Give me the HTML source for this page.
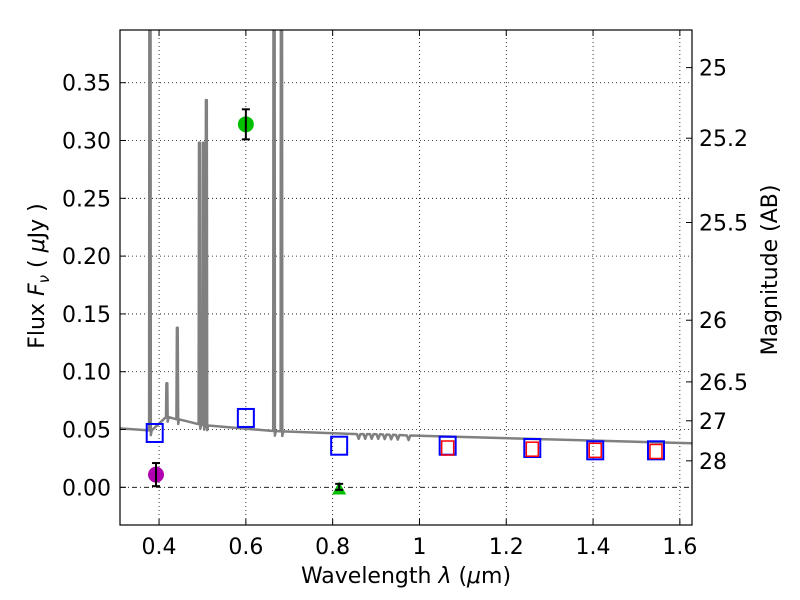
<!DOCTYPE html>
<html><head><meta charset="utf-8"><style>
body{margin:0;background:#fff;}
svg{display:block;font-family:"DejaVu Sans","Liberation Sans",sans-serif;}
</style></head><body>
<svg id="chart" width="800" height="600" viewBox="0 0 800 600" xmlns="http://www.w3.org/2000/svg">
<rect width="800" height="600" fill="#fff"/>
<defs><clipPath id="clip"><rect x="120" y="30" width="572" height="495"/></clipPath></defs>
<g id="grid"></g>
<g id="plot" clip-path="url(#clip)"></g>
<rect x="120" y="30" width="572" height="495" fill="none" stroke="#000" stroke-width="1.2"/>
<g id="axes"></g>
<text x="406" y="583" font-size="22" text-anchor="middle">Wavelength  <tspan font-style="italic">λ</tspan> (<tspan font-style="italic">μ</tspan>m)</text>
<text transform="translate(44,276) rotate(-90)" font-size="22" text-anchor="middle">Flux  <tspan font-style="italic">F</tspan><tspan font-style="italic" font-size="15" dy="5">ν</tspan><tspan dy="-5">  ( </tspan><tspan font-style="italic">μ</tspan>Jy )</text>
<text transform="translate(777,270) rotate(-90)" font-size="22" text-anchor="middle">Magnitude (AB)</text>
</svg>
<script>
const xTicks=[0.4,0.6,0.8,1.0,1.2,1.4,1.6];
const xTickLabels=["0.4","0.6","0.8","1","1.2","1.4","1.6"];
const yTicks=[0,0.05,0.10,0.15,0.20,0.25,0.30,0.35];
const yTickLabels=["0.00","0.05","0.10","0.15","0.20","0.25","0.30","0.35"];
const magTicks=[25,25.2,25.5,26,26.5,27,28];
const magTickLabels=["25","25.2","25.5","26","26.5","27","28"];
const contWave=[0.31,0.34,0.37,0.385,0.40,0.42,0.45,0.50,0.55,0.60,0.70,0.80,0.85,0.90,0.97,1.0,1.1,1.2,1.3,1.4,1.5,1.58,1.63];
const contFlux=[0.051,0.048,0.045,0.052,0.058,0.061,0.058,0.054,0.051,0.050,0.048,0.047,0.046,0.046,0.045,0.044,0.043,0.042,0.041,0.040,0.040,0.040,0.038];
const lineWave=[0.379,0.418,0.442,0.493,0.502,0.509,0.665,0.682];
const linePeak=[0.6,0.09,0.138,0.298,0.298,0.335,0.6,0.6];
const wiggleWave=[0.86,0.875,0.89,0.905,0.92,0.935,0.95,0.975];
const blueWave=[0.39,0.60,0.815,1.065,1.26,1.405,1.545];
const blueFlux=[0.047,0.060,0.036,0.036,0.034,0.032,0.032];
const redWave=[1.065,1.26,1.405,1.545];
const redFlux=[0.034,0.033,0.032,0.031];
const circWave=[0.393,0.60];
const circFlux=[0.011,0.314];
const circErr=[0.010,0.013];
const circColor=["#b000b0","#00c000"];
const triWave=[0.815];
const triFlux=[-0.001];
const triErr=[0.004];

const NS="http://www.w3.org/2000/svg";
const X0=120,X1=692,Y0=30,Y1=525,xmin=0.310,xmax=1.628,ymin=-0.0326,ymax=0.3956;
const sx=v=>X0+(v-xmin)/(xmax-xmin)*(X1-X0);
const sy=v=>Y1-(v-ymin)/(ymax-ymin)*(Y1-Y0);
function mk(tag,attrs,parent){const e=document.createElementNS(NS,tag);for(const k in attrs)e.setAttribute(k,attrs[k]);parent.appendChild(e);return e;}
const grid=document.getElementById('grid'),plot=document.getElementById('plot'),axes=document.getElementById('axes');

xTicks.forEach((t,i)=>{const x=sx(t);
 const g=mk('line',{x1:x,x2:x,y1:Y0,y2:Y1,stroke:'#000','stroke-width':0.8,'stroke-dasharray':'1,3'},grid);
 
 mk('line',{x1:x,x2:x,y1:Y1,y2:Y1-6,stroke:'#000'},axes);
 mk('line',{x1:x,x2:x,y1:Y0,y2:Y0+6,stroke:'#000'},axes);
 const tx=mk('text',{x:x,y:554,'font-size':22,'text-anchor':'middle'},axes);tx.textContent=xTickLabels[i];
 
});
yTicks.forEach((t,i)=>{const y=sy(t);
 const g=mk('line',{x1:X0,x2:X1,y1:y,y2:y,stroke:'#000','stroke-width':0.8,'stroke-dasharray':t===0?'5,3,1,3':'1,3'},grid);
 
 mk('line',{x1:X0,x2:X0+6,y1:y,y2:y,stroke:'#000'},axes);
 const tx=mk('text',{x:111,y:y+8,'font-size':22,'text-anchor':'end'},axes);tx.textContent=yTickLabels[i];
 
});
magTicks.forEach((m,i)=>{const y=sy(Math.pow(10,(23.9-m)/2.5));
 mk('line',{x1:X1,x2:X1-6,y1:y,y2:y,stroke:'#000'},axes);
 const tx=mk('text',{x:699,y:y+8,'font-size':22},axes);tx.textContent=magTickLabels[i];
 
});

function cont(w){for(let i=0;i<contWave.length-1;i++){if(w<=contWave[i+1]){const f=(w-contWave[i])/(contWave[i+1]-contWave[i]);return contFlux[i]+f*(contFlux[i+1]-contFlux[i]);}}return contFlux[contFlux.length-1];}
let pts=[];
const events=[];
lineWave.forEach((w,i)=>events.push({w:w,p:linePeak[i],t:'line'}));
wiggleWave.forEach(w=>events.push({w:w,t:'wig'}));
events.sort((a,b)=>a.w-b.w);
pts.push([xmin,cont(xmin)]);
events.forEach(e=>{
 if(e.t==='line'){pts.push([e.w-0.002,cont(e.w)]);pts.push([e.w-0.001,e.p]);pts.push([e.w+0.001,e.p]);pts.push([e.w+0.002,cont(e.w)-0.004]);pts.push([e.w+0.004,cont(e.w)]);}
 else{pts.push([e.w-0.004,cont(e.w)]);pts.push([e.w,cont(e.w)-0.004]);pts.push([e.w+0.004,cont(e.w)]);}
});
pts.push([xmax,cont(xmax)]);
const d=pts.map((p,i)=>(i?'L':'M')+sx(p[0]).toFixed(1)+','+sy(p[1]).toFixed(1)).join(' ');
const sp=mk('path',{d:d,fill:'none',stroke:'#808080','stroke-width':2.5,'stroke-linejoin':'round'},plot);


blueWave.forEach((w,i)=>{const r=mk('rect',{x:sx(w)-8,y:sy(blueFlux[i])-9,width:16,height:18,fill:'none',stroke:'#0000ff','stroke-width':2},plot);
 });
redWave.forEach((w,i)=>{const r=mk('rect',{x:sx(w)-6,y:sy(redFlux[i])-7,width:12,height:14,fill:'none',stroke:'#ff0000','stroke-width':1.5},plot);
 });
function errbar(x,lo,hi){mk('line',{x1:x,x2:x,y1:sy(lo),y2:sy(hi),stroke:'#000','stroke-width':2},plot);
 mk('line',{x1:x-4,x2:x+4,y1:sy(lo),y2:sy(lo),stroke:'#000','stroke-width':2},plot);
 mk('line',{x1:x-4,x2:x+4,y1:sy(hi),y2:sy(hi),stroke:'#000','stroke-width':2},plot);}
circWave.forEach((w,i)=>{const x=sx(w);
 const c=mk('circle',{cx:x,cy:sy(circFlux[i]),r:8,fill:circColor[i]},plot);
 
 errbar(x,circFlux[i]-circErr[i],circFlux[i]+circErr[i]);});
triWave.forEach((w,i)=>{const x=sx(w),y=sy(triFlux[i]);
 const t=mk('polygon',{points:`${x-7},${y+6} ${x+7},${y+6} ${x},${y-7}`,fill:'#00c000'},plot);
 
 errbar(x,triFlux[i]-triErr[i]*0.3,triFlux[i]+triErr[i]);});
</script>
</body></html>
